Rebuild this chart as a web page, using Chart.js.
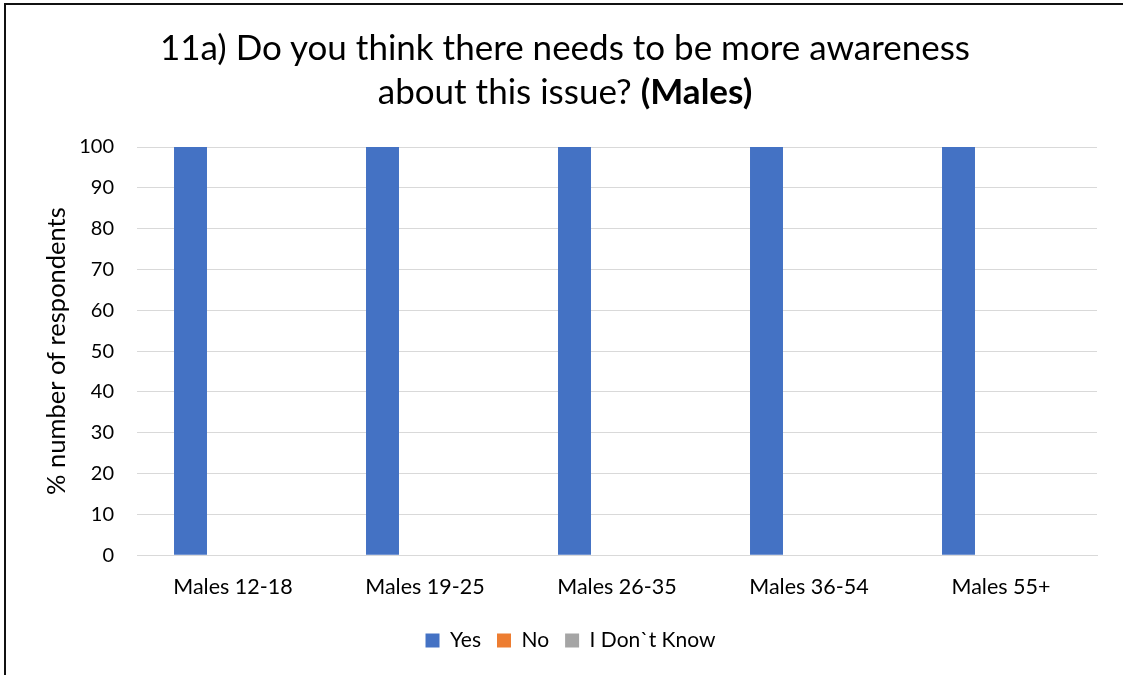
<!DOCTYPE html>
<html>
<head>
<meta charset="utf-8">
<script src="https://cdn.jsdelivr.net/npm/chart.js@4.4.1/dist/chart.umd.min.js"></script>
<style>
  html, body { margin: 0; padding: 0; background: #fff; overflow: hidden; }
  #frame {
    position: absolute; left: 4px; top: 3px; width: 1300px; height: 900px;
    border-top: 2px solid #111; border-left: 2px solid #111;
  }
  #wrap { position: absolute; left: 0; top: 0; width: 1123px; height: 675px; }
  #chartTitle {
    position: absolute; left: 0; top: 24px; width: 1130px; text-align: center;
    font-family: Lato, "Open Sans", sans-serif; font-size: 35px; line-height: 44px; color: #000;
  }
</style>
</head>
<body>
<div id="frame"></div>
<div id="wrap">
  <canvas id="awarenessChart" width="1123" height="675"></canvas>
  <div id="chartTitle">11a) Do you think there needs to be more awareness<br>about this issue? <b>(Males)</b></div>
</div>
<script>
const categorias = ['Males 12-18', 'Males 19-25', 'Males 26-35', 'Males 36-54', 'Males 55+'];
const respuestasYes = [100, 100, 100, 100, 100];
const respuestasNo = [0, 0, 0, 0, 0];
const respuestasNoSe = [0, 0, 0, 0, 0];
const serieNombres = ['Yes', 'No', 'I Don`t Know'];
const serieColores = ['#4472C4', '#ED7D31', '#A5A5A5'];

const fuente = 'Lato, "Open Sans", sans-serif';

// la leyenda del original queda un poco a la derecha del centro y algo más arriba
const moverLeyenda = {
    id: 'moverLeyenda',
    afterLayout: function(chart) {
        if(chart.legend) {
            chart.legend.left += 22;
            chart.legend.right += 22;
            chart.legend.top -= 4;
            chart.legend.bottom -= 4;
        }
    }
};

function initializeChart() {
    const ctx = document.getElementById('awarenessChart');
    if(!ctx) return;
    const series = [respuestasYes, respuestasNo, respuestasNoSe];

    new Chart(ctx, {
        type: 'bar',
        data: {
            labels: categorias,
            datasets: series.map(function(valores, i) {
                return {
                    label: serieNombres[i],
                    data: valores,
                    backgroundColor: serieColores[i],
                    borderWidth: 0,
                    categoryPercentage: 0.664,
                    barPercentage: 0.776
                };
            })
        },
        options: {
            responsive: false,
            animation: false,
            devicePixelRatio: 1,
            layout: {
                padding: { top: 147, right: 26, bottom: 10, left: 0 }
            },
            plugins: {
                title: { display: false },
                tooltip: { enabled: false },
                legend: {
                    position: 'bottom',
                    labels: {
                        boxWidth: 14,
                        boxHeight: 14,
                        padding: 16,
                        color: '#000',
                        font: { family: fuente, size: 21 }
                    }
                }
            },
            scales: {
                x: {
                    grid: { display: false, drawTicks: false },
                    border: { display: true, color: '#d9d9d9', width: 1 },
                    ticks: {
                        color: '#000',
                        padding: 18.5,
                        maxRotation: 0,
                        font: { family: fuente, size: 21.5 }
                    }
                },
                y: {
                    min: 0,
                    max: 100,
                    grid: { color: '#d9d9d9', lineWidth: 1, drawTicks: false },
                    border: { display: false },
                    ticks: {
                        stepSize: 10,
                        color: '#000',
                        padding: 23,
                        font: { family: fuente, size: 20 }
                    },
                    title: {
                        display: true,
                        text: '% number of respondents',
                        color: '#000',
                        padding: { top: 41, bottom: 0 },
                        font: { family: fuente, size: 25.5 }
                    },
                    afterFit: function(scale) {
                        scale.width = 137;
                    }
                }
            }
        },
        plugins: [moverLeyenda]
    });
}

if(document.readyState === 'loading') {
    document.addEventListener('DOMContentLoaded', initializeChart);
} else {
    initializeChart();
}
</script>
</body>
</html>
